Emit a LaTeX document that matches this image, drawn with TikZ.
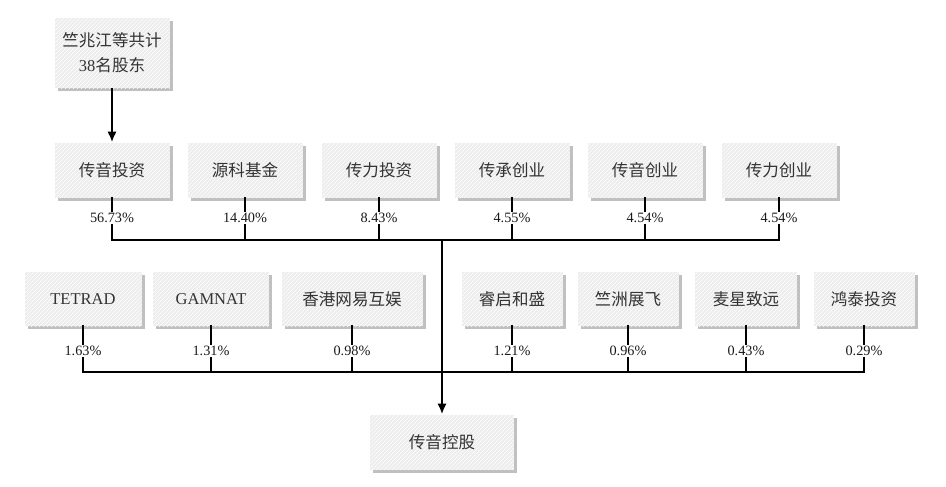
\documentclass[tikz,border=0pt]{standalone}
\usepackage{fontspec}
\setmainfont{Liberation Serif}
\newfontfamily\cjk{Noto Sans CJK SC}
\usetikzlibrary{arrows,arrows.meta,calc,patterns,positioning,shadows,shapes}
\newcommand{\zhtext}[1]{{\cjk #1}}
\tikzset{%
	holder/.style = {rectangle, fill=black!7, minimum height=55*0.75pt, text centered, text=black!80, font=\fontsize{12.4}{18.75}\selectfont, drop shadow={shadow xshift=2.4pt, shadow yshift=-2.4pt, fill=black!55, opacity=0.45}, postaction={pattern=north east lines, pattern color=white}},
	pct/.style    = {inner sep=1.3pt, font=\fontsize{10.7}{12}\selectfont, text=black!90},
	link/.style   = {line width=1.6pt, line cap=rect},
	arrow/.style  = {line width=1.6pt, -{Latex[length=8pt,width=7pt]}},
}

\begin{document}
\begin{tikzpicture}[x=0.75pt,y=-0.75pt]
	\useasboundingbox (0,0) rectangle (946,486);
	
	\node[holder, minimum width=115*0.75pt, minimum height=70*0.75pt, align=center] (zzj) at (112,53) {\zhtext{竺兆江等共计}\\38\zhtext{名股东}};
	
	% first row of holders
	\foreach \n/\x/\txt/\p in {ra/112/传音投资/56.73,rb/245/源科基金/14.40,rc/379/传力投资/8.43,rd/512/传承创业/4.55,re/645/传音创业/4.54,rf/779/传力创业/4.54}
	{
		\node[holder, minimum width=115*0.75pt] (\n) at (\x,170) {\zhtext{\txt}};
		\node[pct] (p\n) at (\x,218) {\p\%};
		\coordinate (b\n) at (\x,240);
		\draw[link] (\n) -- (p\n);
		\draw[link] (p\n) -- (b\n);
	}
	
	% second row of holders
	\foreach \n/\x/\w/\txt/\p in {sa/83/117/TETRAD/1.63,sb/211/116/GAMNAT/1.31,sc/352/141/\zhtext{香港网易互娱}/0.98,sd/512/101/\zhtext{睿启和盛}/1.21,se/628/101/\zhtext{竺洲展飞}/0.96,sf/746/102/\zhtext{麦星致远}/0.43,sg/864/101/\zhtext{鸿泰投资}/0.29}
	{
		\node[holder, minimum width=\w*0.75pt, minimum height=54*0.75pt] (\n) at (\x,299) {\txt};
		\node[pct] (p\n) at (\x,351) {\p\%};
		\coordinate (b\n) at (\x,372);
		\draw[link] (\n) -- (p\n);
		\draw[link] (p\n) -- (b\n);
	}
	
	\node[holder, minimum width=144*0.75pt] (cyhold) at (442,442) {\zhtext{传音控股}};
	
	\draw[link] (bra) -- (brf);
	\draw[link] (bsa) -- (bsg);
	\coordinate (hub) at (442,240);
	\draw[arrow] (zzj) -- (ra);
	\draw[arrow] (hub) -- (cyhold);
\end{tikzpicture}
\end{document}
